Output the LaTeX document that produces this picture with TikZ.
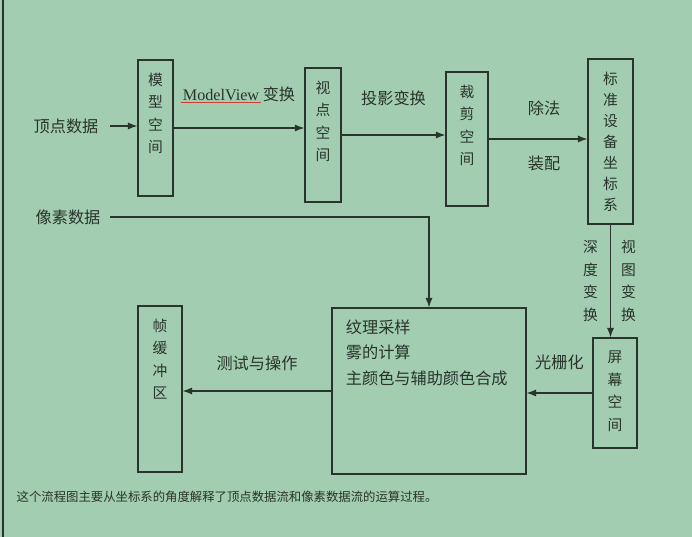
\documentclass[tikz,border=0pt]{standalone}
\usepackage{fontspec}
\setmainfont{Liberation Serif}
\newfontfamily\cjk{Noto Sans CJK SC}
\usetikzlibrary{arrows.meta, positioning, fit}
\definecolor{BG}{RGB}{162,205,176}
\definecolor{INK}{RGB}{40,52,44}
\definecolor{RL}{RGB}{210,60,50}

\begin{document}
\begin{tikzpicture}[
  x=0.025cm, y=-0.025cm,
  box/.style={draw=INK, line width=0.8pt, inner sep=0pt},
  vtxt/.style={text=INK, font=\cjk\fontsize{10.5}{16}\selectfont,
               align=center, inner sep=0pt},
  lbl/.style={text=INK, font=\cjk\fontsize{11.5}{13}\selectfont, inner sep=1pt},
  arr/.style={draw=INK, line width=0.9pt, -{Latex[length=2.4mm,width=1.8mm]}}
]
% screen background
\fill[BG] (0,0) rectangle (692,537);
\useasboundingbox (0,0) rectangle (692,537);
\draw[INK, line width=1pt] (3,0) -- (3,537);

% boxes
\node[box, fit={(138,60) (173,196)}] (model) {};
\node[box, fit={(305,68) (341,202)}] (view) {};
\node[box, fit={(446,72) (488,206)}] (clip) {};
\node[box, fit={(588,59) (633,224)}] (ndc) {};
\node[box, fit={(593,338) (637,448)}] (screen) {};
\node[box, fit={(332,308) (526,474)}] (frag) {};
\node[box, fit={(138,306) (182,472)}] (fbuf) {};

% box texts
\node[vtxt, below=3.3mm of model.north] (modelt) {模\\型\\空\\间};
\node[vtxt, below=3.3mm of view.north] (viewt) {视\\点\\空\\间};
\node[vtxt, below=3.3mm of clip.north] (clipt) {裁\\剪\\空\\间};
\node[vtxt, below=3.3mm of ndc.north, font=\cjk\fontsize{10.5}{15}\selectfont]
  (ndct) {标\\准\\设\\备\\坐\\标\\系};
\node[vtxt, below=3.3mm of screen.north] (screent) {屏\\幕\\空\\间};
\node[vtxt, below=3.3mm of fbuf.north] (fbuft) {帧\\缓\\冲\\区};
\node[lbl, anchor=north west, align=left, font=\cjk\fontsize{11.5}{17.8}\selectfont]
  (fragt) at ([xshift=3.2mm, yshift=-2.8mm]frag.north west)
  {纹理采样\\雾的计算\\主颜色与辅助颜色合成};

% inputs
\node[lbl] (vertex) at (66,126) {顶点数据};
\node[lbl] (pixel) at (68,217) {像素数据};

% vertex flow
\draw[arr] ([xshift=2.5mm]vertex.east) -- (vertex -| model.west);
\draw[arr] (model) -- (model -| view.west)
  node[lbl, midway, above=6mm] (mvlbl) {{\rmfamily ModelView} 变换};
\draw[RL, line width=0.7pt] ([yshift=1pt]mvlbl.south west) -- ++(80,0);
\draw[arr] (view) -- (view -| clip.west)
  node[lbl, midway, above=6.8mm] (projlbl) {投影变换};
\draw[arr] (clip) -- (clip -| ndc.west)
  node[lbl, midway, above=5.3mm, xshift=1.5mm] (divlbl) {除法}
  node[lbl, midway, below=3.6mm, xshift=1.5mm] (asmlbl) {装配};
\draw[arr] (ndc.south) -- (ndc.south |- screen.north)
  node[vtxt, midway, left=3mm] (depthlbl) {深\\度\\变\\换}
  node[vtxt, midway, right=2.5mm] (viewtlbl) {视\\图\\变\\换};

% pixel flow
\draw[arr] (screen) -- (screen -| frag.east)
  node[lbl, midway, above=5.3mm] (rastlbl) {光栅化};
\draw[arr] ([xshift=2mm]pixel.east) -| (frag.north);
\draw[arr] (frag) -- (frag -| fbuf.east)
  node[lbl, midway, above=4.6mm] (testlbl) {测试与操作};

% caption
\node[lbl, anchor=west, font=\cjk\fontsize{8.8}{10}\selectfont] (note) at (15,497)
  {这个流程图主要从坐标系的角度解释了顶点数据流和像素数据流的运算过程。};
\end{tikzpicture}
\end{document}
